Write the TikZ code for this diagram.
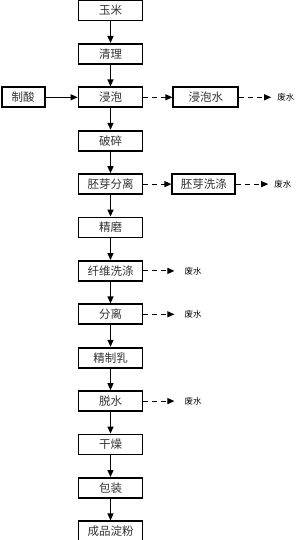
\documentclass[tikz,border=0pt]{standalone}
\usepackage{fontspec}
\setmainfont{Noto Sans CJK SC}
\usepackage{tikz}
\usetikzlibrary{positioning,arrows.meta}
\tikzset{
  procbox/.style={draw=black, line width=1.8pt, fill=white, minimum width=64pt, minimum height=20pt, inner sep=1pt, font=\fontsize{11.5}{12}\selectfont, text=black!80},
  flowarr/.style={-{Triangle[length=7pt,width=6pt]}, line width=1.3pt},
  wastearr/.style={-{Triangle[length=7pt,width=6pt]}, line width=1.1pt, dash pattern=on 5pt off 4pt},
  wastetxt/.style={font=\fontsize{8.5}{9}\selectfont, inner sep=0pt, anchor=west}
}
\begin{document}
\begin{tikzpicture}[node distance=21.6pt]
\useasboundingbox (0pt,0pt) rectangle (300pt,-540pt);
% main line
\node[procbox] (corn) at (110.5pt,-10.5pt) {玉米};
\node[procbox, below=of corn] (clean) {清理};
\node[procbox, below=of clean] (steep) {浸泡};
\node[procbox, below=of steep] (crush) {破碎};
\node[procbox, below=of crush] (germsep) {胚芽分离};
\node[procbox, below=of germsep] (grind) {精磨};
\node[procbox, below=of grind] (fibre) {纤维洗涤};
\node[procbox, below=of fibre] (sep) {分离};
\node[procbox, below=of sep] (milk) {精制乳};
\node[procbox, below=of milk] (dewater) {脱水};
\node[procbox, below=of dewater] (dry) {干燥};
\node[procbox, below=of dry] (pack) {包装};
\node[procbox, below=of pack] (starch) {成品淀粉};
% side boxes
\node[procbox, minimum width=43pt, left=32pt of steep] (acid) {制酸};
\node[procbox, minimum width=65pt, right=29pt of steep] (steepw) {浸泡水};
\node[procbox, minimum width=63pt, right=28pt of germsep] (germw) {胚芽洗涤};
% waste water
\node[wastetxt, right=38pt of steepw] (w1) {废水};
\node[wastetxt, right=38pt of germw] (w2) {废水};
\node[wastetxt, right=41pt of fibre] (w3) {废水};
\node[wastetxt, right=41pt of sep] (w4) {废水};
\node[wastetxt, right=41pt of dewater] (w5) {废水};
% arrows
\foreach \a/\b in {corn/clean, clean/steep, steep/crush, crush/germsep, germsep/grind, grind/fibre, fibre/sep, sep/milk, milk/dewater, dewater/dry, dry/pack, pack/starch}
  \draw[flowarr] (\a) -- (\b);
\draw[flowarr] (acid) -- (steep);
\draw[wastearr] (steep) -- (steepw);
\draw[wastearr] (germsep) -- (germw);
\draw[wastearr] (steepw.east) -- ++(32pt,0);
\draw[wastearr] (germw.east) -- ++(32pt,0);
\draw[wastearr] (fibre.east) -- ++(31pt,0);
\draw[wastearr] (sep.east) -- ++(31pt,0);
\draw[wastearr] (dewater.east) -- ++(31pt,0);
\end{tikzpicture}
\end{document}
